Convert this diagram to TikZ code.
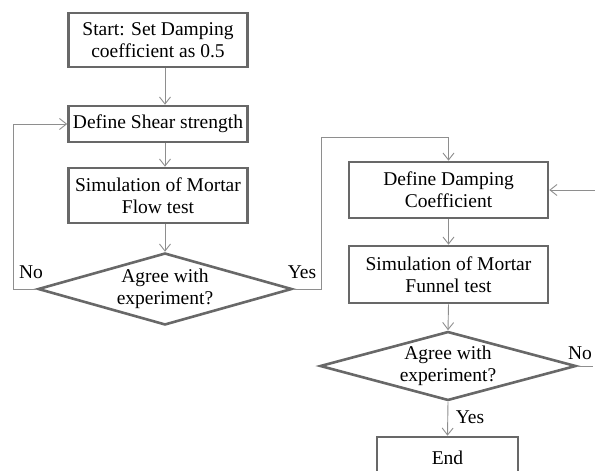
\documentclass[tikz,border=0pt]{standalone}
\usepackage{fontspec}
\setmainfont{Liberation Serif}
\usetikzlibrary{positioning, arrows.meta, calc, shapes.geometric}
\definecolor{frame}{HTML}{686868}
\definecolor{wire}{HTML}{8E8E8E}

\begin{document}
\begin{tikzpicture}[x=1pt, y=-1pt,
    every node/.style={font=\fontsize{19.5pt}{22pt}\selectfont, text=black},
    stepbox/.style={draw=frame, line width=2.6pt, fill=white, align=center, inner sep=0pt},
    decide/.style={draw=frame, line width=2.6pt, fill=white, shape=diamond, shape aspect=3.5,
      align=center, inner sep=0pt},
    arr/.style={draw=wire, line width=0.9pt, -{Straight Barb[length=7pt, width=11pt]}},
    wireline/.style={draw=wire, line width=0.9pt}]
        \useasboundingbox (0,0) rectangle (595,471);
        % left column
        \node[stepbox, minimum width=179pt, minimum height=54pt] (start) at (158,40)
          {Start: Set Damping\\coefficient as 0.5};
        \node[stepbox, minimum width=179pt, minimum height=36pt] (shear) at (158,124)
          {Define Shear strength};
        \node[stepbox, minimum width=179pt, minimum height=55pt] (flow) at (158,195.5)
          {Simulation of Mortar\\Flow test};
        \node[decide, minimum width=254pt, minimum height=72pt] (check1) at (165,289)
          {Agree with\\experiment?};
        % right column
        \node[stepbox, minimum width=199pt, minimum height=56pt] (damp) at (448.5,190)
          {Define Damping\\Coefficient};
        \node[stepbox, minimum width=199pt, minimum height=57pt] (funnel) at (448.5,274.5)
          {Simulation of Mortar\\Funnel test};
        \node[decide, minimum width=256pt, minimum height=69pt] (check2) at (448,366)
          {Agree with\\experiment?};
        \node[stepbox, minimum width=141pt, minimum height=42pt] (finish) at (447.5,458)
          {End};
        \coordinate (noout) at (593,366);
        \coordinate (noin) at (595,190);
        % connectors
        \draw[arr] (start.south -| check1.north) -- (shear.north -| check1.north);
        \draw[arr] (shear.south -| check1.north) -- (flow.north -| check1.north);
        \draw[arr] (flow.south -| check1.north) -- (check1.north);
        \draw[arr] (check1.west) -- ++(-23,0) |- (shear.west);
        \draw[arr] (check1.east) -- ++(28,0) |- ([yshift=23pt]damp.north) -- (damp.north);
        \draw[arr] (damp.south) -- (funnel.north);
        \draw[arr] (funnel.south) -- (check2.north);
        \draw[arr] (check2.south) -- (finish.north);
        \draw[wireline] (check2.east) -- (noout);
        \draw[arr] (noin) -- (damp.east);
        % labels
        \node (no1) at (31,272) {No};
        \node (yes1) at (302,272) {Yes};
        \node (no2) at (580,353) {No};
        \node (yes2) at (470,417) {Yes};
      \end{tikzpicture}
\end{document}
